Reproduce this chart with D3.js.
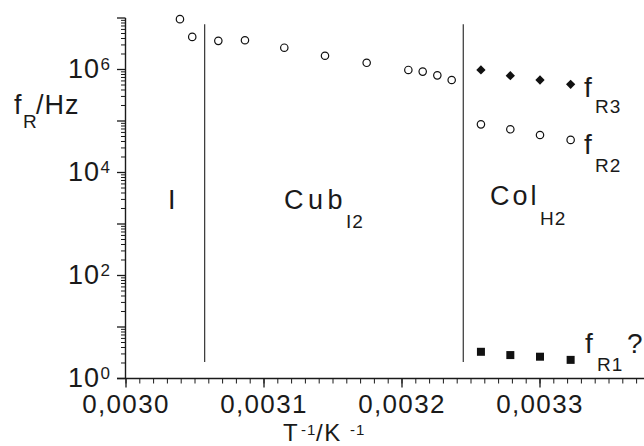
<!DOCTYPE html>
<html>
<head>
<meta charset="utf-8">
<title>Relaxation frequencies vs 1/T</title>
<script src="https://cdn.jsdelivr.net/npm/d3@7/dist/d3.min.js"></script>
<style>
  body { margin: 0; background: #fff; overflow: hidden; }
  text { font-family: "Liberation Sans", Arial, sans-serif; fill: #1a1a1a; }
</style>
</head>
<body>
<script>
// values (T^-1 in 1/K, f in Hz)
var tCub = [0.0030391, 0.0030480, 0.0030669, 0.0030862, 0.0031147, 0.0031442,
            0.0031744, 0.0032046, 0.0032150, 0.0032256, 0.0032360];
var fCub = [9.5e6, 4.3e6, 3.6e6, 3.7e6, 2.65e6, 1.85e6,
            1.35e6, 9.8e5, 9.1e5, 7.7e5, 6.25e5];
var tCol = [0.0032572, 0.0032785, 0.0033000, 0.0033222];
var fR3 = [9.8e5, 7.6e5, 6.25e5, 5.15e5];
var fR2 = [8.6e4, 6.9e4, 5.35e4, 4.3e4];
var fR1 = [3.3, 2.85, 2.65, 2.3];
var phaseBounds = [0.003057, 0.0032444];
var boundSpan = [2.1, 7.6e6];
var xTicks = [0.0030, 0.0031, 0.0032, 0.0033];
var yLabelExp = [0, 2, 4, 6];

var W = 644, H = 446;
var svg = d3.select("body").append("svg")
    .attr("width", W)
    .attr("height", H);

var x = d3.scaleLinear().domain([0.0030, 0.0034]).range([126, 678]);
var y = d3.scaleLog().domain([1, 1e7]).range([378.5, 18]);

// y axis: major at every decade, minor 2..9
var yMajor = d3.range(0, 8).map(function (e) { return Math.pow(10, e); });
var yMinor = [];
d3.range(0, 7).forEach(function (e) {
  for (var k = 2; k < 10; k++) yMinor.push(k * Math.pow(10, e));
});

var axisColor = "#1a1a1a";
var g = svg.append("g");

g.append("line")
  .attr("x1", 125.5).attr("x2", 125.5)
  .attr("y1", y(1e7)).attr("y2", y(1) + 0.5)
  .attr("stroke", axisColor).attr("stroke-width", 1.4);

g.selectAll(".ymaj").data(yMajor).enter().append("line")
  .attr("x1", 117).attr("x2", 125.5)
  .attr("y1", function (d) { return y(d); })
  .attr("y2", function (d) { return y(d); })
  .attr("stroke", axisColor).attr("stroke-width", 1.3);

g.selectAll(".ymin").data(yMinor).enter().append("line")
  .attr("x1", 121).attr("x2", 125.5)
  .attr("y1", function (d) { return y(d); })
  .attr("y2", function (d) { return y(d); })
  .attr("stroke", axisColor).attr("stroke-width", 1);

// x axis
g.append("line")
  .attr("x1", 117).attr("x2", W)
  .attr("y1", y(1)).attr("y2", y(1))
  .attr("stroke", axisColor).attr("stroke-width", 1.4);

var xMinor = d3.range(0, 41).map(function (i) { return 0.0030 + i * 0.00001; });
g.selectAll(".xmin").data(xMinor).enter().append("line")
  .attr("x1", function (d) { return x(d); })
  .attr("x2", function (d) { return x(d); })
  .attr("y1", y(1)).attr("y2", y(1) + 5)
  .attr("stroke", axisColor).attr("stroke-width", 1);

g.selectAll(".xmaj").data(xTicks).enter().append("line")
  .attr("x1", function (d) { return x(d); })
  .attr("x2", function (d) { return x(d); })
  .attr("y1", y(1)).attr("y2", y(1) + 9)
  .attr("stroke", axisColor).attr("stroke-width", 1.3);

var fmt = d3.format(".4f");
g.selectAll(".xlab").data(xTicks).enter().append("text")
  .attr("x", function (d) { return x(d); })
  .attr("y", 413)
  .attr("text-anchor", "middle")
  .attr("font-size", "26px")
  .attr("letter-spacing", "1.3px")
  .text(function (d) { return fmt(d).replace(".", ","); });

// y tick labels 10^n
var ylab = g.selectAll(".ylab").data(yLabelExp).enter().append("g");
ylab.append("text")
  .attr("x", 100)
  .attr("y", function (d) { return y(Math.pow(10, d)) + 8.5; })
  .attr("text-anchor", "end")
  .attr("font-size", "27px")
  .attr("letter-spacing", "1px")
  .text("10");
ylab.append("text")
  .attr("x", 100.5)
  .attr("y", function (d) { return y(Math.pow(10, d)) + 0.5; })
  .attr("font-size", "17px")
  .text(function (d) { return d; });

// phase boundaries
svg.selectAll(".bound").data(phaseBounds).enter().append("line")
  .attr("x1", function (d) { return x(d); })
  .attr("x2", function (d) { return x(d); })
  .attr("y1", y(boundSpan[1])).attr("y2", y(boundSpan[0]))
  .attr("stroke", "#333").attr("stroke-width", 1.2);

// markers
svg.selectAll(".cub").data(tCub).enter().append("circle")
  .attr("cx", function (d) { return x(d); })
  .attr("cy", function (d, i) { return y(fCub[i]); })
  .attr("r", 3.7)
  .attr("fill", "none").attr("stroke", "#111").attr("stroke-width", 1.2);

svg.selectAll(".r2").data(tCol).enter().append("circle")
  .attr("cx", function (d) { return x(d); })
  .attr("cy", function (d, i) { return y(fR2[i]); })
  .attr("r", 3.7)
  .attr("fill", "none").attr("stroke", "#111").attr("stroke-width", 1.2);

var diamond = d3.symbol().type(d3.symbolDiamond2).size(55);
svg.selectAll(".r3").data(tCol).enter().append("path")
  .attr("d", diamond)
  .attr("transform", function (d, i) { return "translate(" + x(d) + "," + y(fR3[i]) + ")"; })
  .attr("fill", "#111");

svg.selectAll(".r1").data(tCol).enter().append("rect")
  .attr("x", function (d) { return x(d) - 4; })
  .attr("y", function (d, i) { return y(fR1[i]) - 4; })
  .attr("width", 8).attr("height", 8)
  .attr("fill", "#111");

// text pieces: [x, baseline, size, string, letter-spacing]
var pieces = [
  [14, 114, 27, "f", 1], [23, 128, 19, "R", 1], [36, 114, 27, "/Hz", 1],
  [283, 441, 24, "T", 1], [301, 435, 15, "-1", 1], [316, 441, 24, "/K", 1.5], [350, 435, 15, "-1", 1],
  [168, 209, 27, "I", 1],
  [284, 209, 27, "Cub", 4.5], [346, 228, 19, "I2", 1],
  [490, 205, 27, "Col", 3], [540, 225, 19, "H2", 1],
  [584, 97, 28, "f", 1], [595, 113, 19, "R3", 1],
  [584, 154, 28, "f", 1], [595, 172, 19, "R2", 1],
  [585, 353, 28, "f", 1], [597, 371, 19, "R1", 1], [627, 353, 28, "?", 1]
];
svg.selectAll(".lbl").data(pieces).enter().append("text")
  .attr("x", function (d) { return d[0]; })
  .attr("y", function (d) { return d[1]; })
  .attr("font-size", function (d) { return d[2] + "px"; })
  .attr("letter-spacing", function (d) { return d[4] + "px"; })
  .text(function (d) { return d[3]; });
</script>
</body>
</html>
